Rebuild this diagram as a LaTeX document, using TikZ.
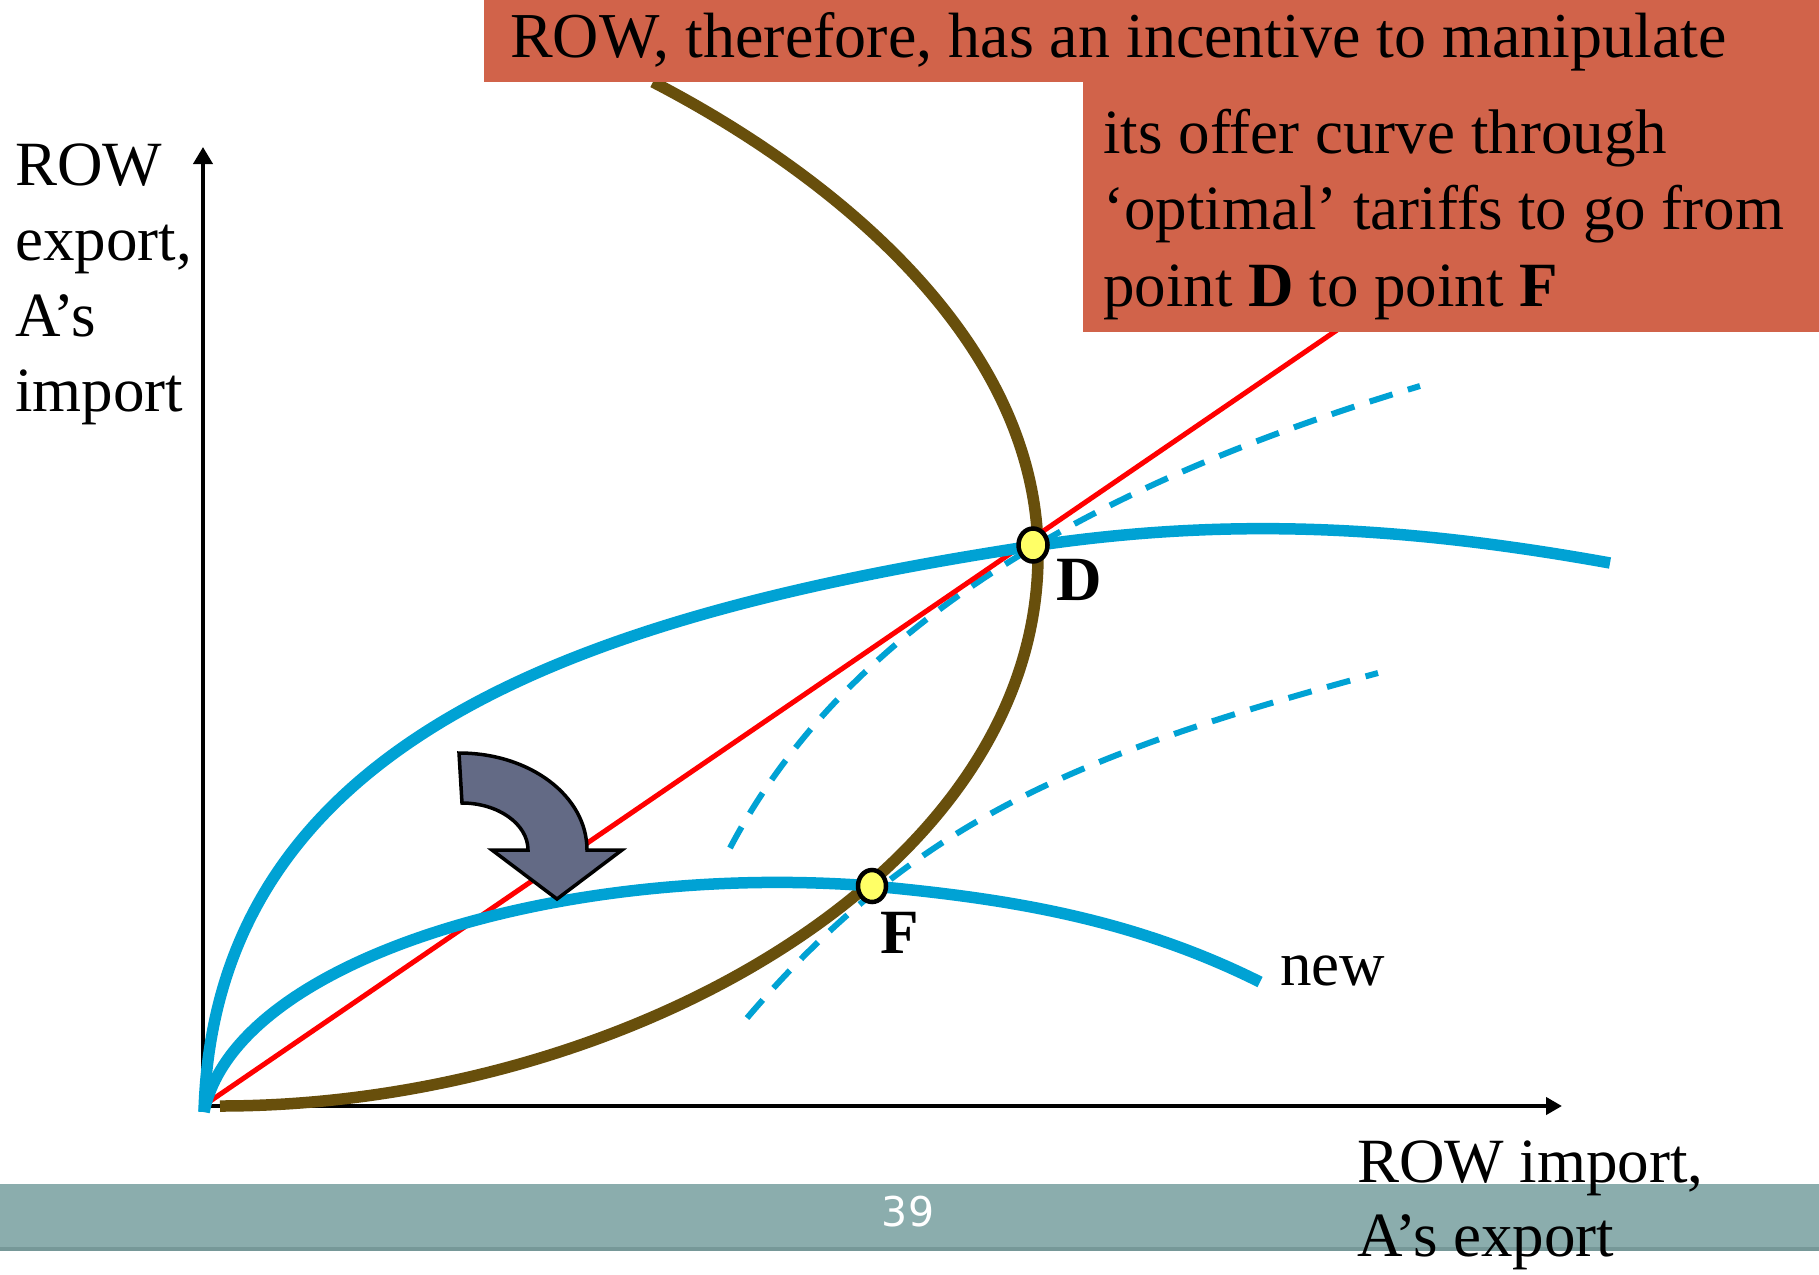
\documentclass[tikz,border=0pt]{standalone}
\usepackage{fontspec}
\setmainfont{Liberation Serif}
\newfontfamily\footfont{DejaVu Sans}
\usetikzlibrary{arrows.meta,shapes.geometric}
\definecolor{boxred}{RGB}{209,99,74}
\definecolor{offerbrown}{RGB}{104,79,12}
\definecolor{offerblue}{RGB}{0,162,212}
\definecolor{footbar}{RGB}{139,173,173}
\definecolor{footline}{RGB}{118,152,152}
\definecolor{arrowfill}{RGB}{99,106,133}
\definecolor{dotfill}{RGB}{255,255,102}
\begin{document}
\begin{tikzpicture}[x=1pt,y=-1pt,
  lbl/.style={anchor=base west, inner sep=0pt, font=\fontsize{63}{76}\selectfont},
  boldlbl/.style={lbl, font=\fontsize{63}{76}\selectfont\bfseries},
  axisline/.style={line width=4pt, line join=miter},
  offerA/.style={draw=offerblue, line width=11.5pt},
  offerROW/.style={draw=offerbrown, line width=11.5pt},
  tradeline/.style={draw=red, line width=5pt},
  indiff/.style={draw=offerblue, line width=6pt, dash pattern=on 24pt off 16pt},
  eqpoint/.style={ellipse, draw=black, line width=4.5pt, fill=dotfill, inner sep=0pt},
  notebox/.style={fill=boxred, draw=none},
  bigarrow/.style={fill=arrowfill, draw=black, line width=3.5pt, line join=miter}
]
\useasboundingbox (0,0) rectangle (1819,1274);
\fill[white] (0,0) rectangle (1819,1274);

% footer bar
\fill[footbar] (0,1184) rectangle (1819,1250);
\fill[footline] (0,1247) rectangle (1819,1251);
\node[inner sep=0pt, text=white, font=\footfont\fontsize{41}{49}\selectfont] (page) at (908,1212) {39};

% axes
\coordinate (O) at (203,1106);
\coordinate (ytop) at (203,147);
\coordinate (xend) at (1562,1106);
\draw[axisline, {Triangle[length=17pt,width=19pt]}-{Triangle[length=16pt,width=17pt]}] (ytop) -- (O) -- (xend);

% key points
\coordinate (Dp) at (1033,546);
\coordinate (Fp) at (872,886);

% indifference curves (dashed)
\coordinate (i1s) at (730,848);
\coordinate (i1e) at (1420,386);
\draw[indiff] (i1s) .. controls (860,601) and (1140,470) .. (i1e);
\coordinate (i2s) at (747,1018);
\coordinate (i2e) at (1378,673);
\draw[indiff] (i2s) .. controls (917,819) and (1078,754) .. (i2e);

% ROW offer curve (brown)
\coordinate (bs) at (220,1106);
\coordinate (bv) at (1038,555);
\coordinate (be) at (653,82);
\draw[offerROW] (bs) .. controls (620,1106) and (1038,875) .. (bv)
                    .. controls (1038,335) and (823,170) .. (be);

% trade line (red)
\coordinate (redend) at (1340,328);
\draw[tradeline] (O) -- (redend);

% A's offer curves (blue)
\coordinate (bluestart) at (204,1112);
\coordinate (a1e) at (1610,563);
\draw[offerA] (bluestart) .. controls (215,740) and (580,615) .. (Dp)
                          .. controls (1233,516) and (1410,527) .. (a1e);
\coordinate (a2e) at (1260,982);
\draw[offerA] (bluestart) .. controls (235,960) and (560,862) .. (Fp)
                          .. controls (1002,898) and (1130,917) .. (a2e);

% curved block arrow
\draw[bigarrow] (459,753) .. controls (530,753) and (587,796) .. (587,850) -- (622,850) -- (557,899) -- (492,850) -- (528,850) .. controls (528,824) and (498,803) .. (462,803) -- cycle;

% equilibrium points
\node[eqpoint, minimum width=29pt, minimum height=33pt] (D) at (1033,545) {};
\node[eqpoint, minimum width=28pt, minimum height=32pt] (F) at (872,886) {};
\node[boldlbl] (Dlabel) at (1056,600) {D};
\node[boldlbl] (Flabel) at (880,953) {F};
\node[lbl] (newlabel) at (1280,985) {new};

% axis labels
\node[lbl] (yl1) at (15,185) {ROW};
\node[lbl] (yl2) at (15,260) {export,};
\node[lbl] (yl3) at (15,336) {A’s};
\node[lbl] (yl4) at (15,411) {import};
\node[lbl] (xl1) at (1357,1182) {ROW import,};
\node[lbl] (xl2) at (1357,1256) {A’s export};

% note boxes
\fill[notebox] (484,0) rectangle (1819,82);
\fill[notebox] (1083,81) rectangle (1819,332);
\node[lbl, font=\fontsize{64}{76}\selectfont] (note1) at (510,57) {ROW, therefore, has an incentive to manipulate};
\node[lbl] (note2) at (1103,153) {its offer curve through};
\node[lbl] (note3) at (1103,229) {‘optimal’ tariffs to go from};
\node[lbl] (note4) at (1103,306) {point \textbf{D} to point \textbf{F}};
\end{tikzpicture}
\end{document}
